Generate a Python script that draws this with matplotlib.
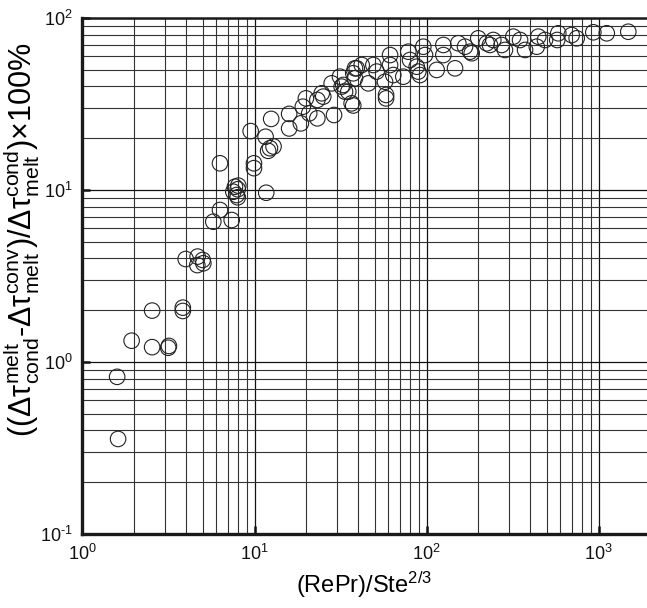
import matplotlib
matplotlib.use("Agg")
import matplotlib.pyplot as plt
from matplotlib.ticker import LogLocator, NullFormatter, FuncFormatter
import numpy as np

plt.rcParams['font.family'] = ['Liberation Sans', 'DejaVu Sans']
plt.rcParams['mathtext.fontset'] = 'custom'
plt.rcParams['mathtext.rm'] = 'Liberation Sans'
plt.rcParams['mathtext.it'] = 'Liberation Sans:italic'
plt.rcParams['mathtext.bf'] = 'Liberation Sans:bold'
plt.rcParams['axes.unicode_minus'] = False

# (RePr)/Ste^(2/3)
x_vals = [
    1.59, 1.61, 1.93, 2.54, 2.54, 3.15, 3.18, 3.83, 3.83, 3.98,
    4.67, 5.00, 4.65, 5.04, 5.76, 6.30, 7.37,
    7.70, 7.99, 7.53, 7.88, 7.99, 8.05,
    11.7, 6.30, 9.93, 9.93, 9.50, 11.6, 12.5, 12.3, 12.9, 12.0,
    15.9, 15.9, 18.6, 19.1, 19.9, 20.8, 23.2, 23.2, 24.6, 25.1,
    29.0, 28.1, 31.4, 32.1, 33.6, 36.7, 37.5, 37.5, 39.3,
    32.8, 35.1, 38.4, 42.0, 38.4, 45.9, 49.1, 51.3, 57.4, 58.2, 58.2,
    61.4, 61.4, 64.1, 73.3, 78.4, 80.2, 87.7, 89.6, 91.6, 95.8, 98.0,
    114.6, 125.3, 125.3, 146.5, 153.1, 167.5, 179.1, 200.0, 223.9,
    183.2, 233.9, 244.5, 273.5, 285.8, 319.6, 349.9, 374.1,
    437.5, 446.7, 488.7, 575.6, 583.7, 698.2, 746.7, 932.9, 1117.0, 1490.0,
]
# ((dtau_cond - dtau_conv)/dtau_cond) x 100%
y_vals = [
    0.82, 0.357, 1.33, 1.99, 1.22, 1.21, 1.24, 2.07, 1.98, 3.97,
    4.10, 3.92, 3.66, 3.75, 6.54, 7.65, 6.69,
    10.45, 10.1, 9.77, 9.35, 9.07, 10.6,
    9.64, 14.3, 14.3, 13.4, 22.0, 20.4, 25.9, 17.5, 17.9, 16.9,
    27.7, 22.8, 24.4, 30.5, 34.1, 27.9, 26.1, 33.4, 36.5, 34.9,
    27.3, 41.7, 45.6, 39.9, 37.3, 31.9, 47.7, 31.0, 51.0,
    40.8, 37.3, 51.0, 53.3, 44.6, 41.7, 53.3, 48.8, 42.6, 35.7, 34.1,
    60.9, 53.3, 46.6, 45.6, 63.7, 57.0, 52.1, 48.8, 46.6, 68.1, 60.9,
    49.9, 69.7, 60.9, 51.0, 71.3, 68.1, 63.7, 76.2, 71.3,
    62.4, 69.7, 74.5, 69.7, 65.2, 77.9, 74.5, 65.2,
    68.1, 77.9, 74.5, 74.5, 81.5, 79.6, 76.2, 82.6, 81.5, 83.2,
]


def pow_label(v, pos):
    e = int(round(np.log10(v)))
    s = str(e).replace('-', '\u2010')
    return r'$\mathrm{10^{%s}}$' % s


fig = plt.figure(figsize=(6.47, 6.08), dpi=100)
ax = fig.add_axes([82.5 / 647, 74 / 608, 1 - 82.5 / 647, 516 / 608])

ax.set_xscale('log')
ax.set_yscale('log')
ax.set_xlim(1, 10 ** ((647 - 82.5) / 172))
ax.set_ylim(0.1, 100)

ax.scatter(x_vals, y_vals, s=125, facecolors='none', edgecolors='#222222',
           linewidths=0.8, zorder=3)

ax.xaxis.set_major_locator(LogLocator(base=10, numticks=10))
ax.xaxis.set_minor_locator(LogLocator(base=10, subs=range(2, 10), numticks=20))
ax.yaxis.set_major_locator(LogLocator(base=10, numticks=10))
ax.yaxis.set_minor_locator(LogLocator(base=10, subs=range(2, 10), numticks=20))
ax.xaxis.set_major_formatter(FuncFormatter(pow_label))
ax.yaxis.set_major_formatter(FuncFormatter(pow_label))
ax.xaxis.set_minor_formatter(NullFormatter())
ax.yaxis.set_minor_formatter(NullFormatter())

ax.grid(True, which='major', color='#111111', linewidth=0.9)
ax.grid(True, which='minor', color='#333333', linewidth=0.8)
ax.set_axisbelow(True)

ax.tick_params(which='major', direction='in', length=6, width=1.8,
               labelsize=13, pad=7, colors='#111111')
ax.tick_params(which='minor', length=0)
ax.tick_params(axis='both', top=False, right=False)

for side in ['left', 'bottom']:
    ax.spines[side].set_linewidth(2.4)
    ax.spines[side].set_color('#1a1a1a')
ax.spines['top'].set_linewidth(1.8)
ax.spines['top'].set_color('#1a1a1a')
ax.spines['right'].set_visible(False)

ax.set_xlabel(r'(RePr)/Ste$^{2/3}$', fontsize=17)
ax.xaxis.set_label_coords((364 - 82.5) / 564.5, (534 - 570) / 516)
ax.set_ylabel(r'$\mathrm{((Δτ^{melt}_{cond}}$-$\mathrm{Δτ^{conv}_{melt})/Δτ^{cond}_{melt})×100\%}$',
              fontsize=22)
ax.yaxis.set_label_coords((42 - 82.5) / 564.5, (534 - 240) / 516)

fig.savefig('out.png', dpi=100)
